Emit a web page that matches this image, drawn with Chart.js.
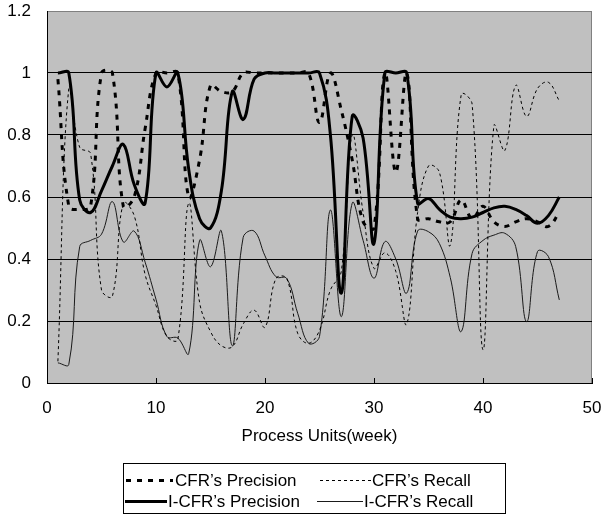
<!DOCTYPE html>
<html>
<head>
<meta charset="utf-8">
<script src="https://cdn.jsdelivr.net/npm/chart.js@4.4.0/dist/chart.umd.min.js"></script>
<style>
  html, body { margin: 0; padding: 0; background: #fff; }
</style>
</head>
<body>
<canvas id="myChart" width="602" height="515"></canvas>
<script>
// weeks on the x axis
const weeks = [1,2,3,4,5,6,7,8,9,10,11,12,13,14,15,16,17,18,19,20,21,22,23,24,25,26,27,28,29,30,31,32,33,34,35,36,37,38,39,40,41,42,43,44,45,46,47];

const cfrPrecision = [0.98,0.57,0.56,0.57,1.0,1.0,0.57,0.6,0.82,1.0,1.0,1.0,0.6,0.72,0.96,0.94,0.94,1.0,1.0,1.0,1.0,1.0,1.0,1.0,0.84,1.0,0.88,0.72,0.52,0.5,1.0,0.68,1.0,0.53,0.53,0.52,0.52,0.59,0.53,0.57,0.52,0.505,0.52,0.53,0.52,0.505,0.55];
const cfrRecall = [0.07,0.95,0.76,0.74,0.3,0.28,0.58,0.54,0.35,0.25,0.15,0.14,0.58,0.26,0.166,0.12,0.117,0.19,0.235,0.18,0.337,0.337,0.16,0.128,0.17,0.3,0.36,0.8,0.55,0.37,0.42,0.36,0.19,0.55,0.7,0.68,0.445,0.93,0.9,0.107,0.83,0.75,0.96,0.86,0.95,0.97,0.91];
const icfrPrecision = [1.0,1.0,0.59,0.55,0.62,0.7,0.77,0.64,0.58,1.0,0.955,1.0,0.69,0.53,0.5,0.62,0.94,0.85,0.98,1.0,1.0,1.0,1.0,1.0,1.0,0.8,0.29,0.86,0.79,0.45,1.0,1.0,1.0,0.58,0.595,0.56,0.535,0.53,0.535,0.55,0.565,0.57,0.56,0.54,0.515,0.54,0.6];
const icfrRecall = [0.065,0.06,0.44,0.46,0.48,0.585,0.455,0.49,0.39,0.27,0.15,0.145,0.095,0.46,0.375,0.49,0.12,0.47,0.49,0.41,0.343,0.337,0.225,0.128,0.15,0.558,0.214,0.58,0.46,0.338,0.456,0.4,0.29,0.49,0.488,0.45,0.34,0.166,0.418,0.46,0.477,0.483,0.44,0.198,0.424,0.408,0.268];

const seriesNames = ["CFR\u2019s Precision", "CFR\u2019s Recall", "I-CFR\u2019s Precision", "I-CFR\u2019s Recall"];
const xTicks = [0, 10, 20, 30, 40, 50];
const yTicks = [0, 0.2, 0.4, 0.6, 0.8, 1, 1.2];
const xTitle = "Process Units(week)";

function toPoints(values) {
  return weeks.map((w, i) => ({ x: w, y: values[i] }));
}

const FONT = "'Liberation Sans', Arial, sans-serif";
Chart.defaults.font.family = FONT;
Chart.defaults.font.size = 17;
Chart.defaults.color = '#000';

// gray plot area with a thin frame, and little tick marks inside the x axis
const plotFrame = {
  id: 'plotFrame',
  beforeDraw(chart) {
    const { ctx, chartArea: a } = chart;
    ctx.save();
    ctx.fillStyle = '#c0c0c0';
    ctx.fillRect(a.left, a.top, a.right - a.left, a.bottom - a.top);
    ctx.strokeStyle = '#808080';
    ctx.lineWidth = 1;
    ctx.strokeRect(a.left + 0.5, a.top + 0.5, a.right - a.left - 1, a.bottom - a.top);
    ctx.restore();
  },
  afterDraw(chart) {
    const { ctx, chartArea: a } = chart;
    const xs = chart.scales.x;
    ctx.save();
    ctx.strokeStyle = '#000';
    ctx.lineWidth = 1;
    xTicks.forEach(v => {
      const px = Math.round(xs.getPixelForValue(v)) + 0.5;
      ctx.beginPath();
      ctx.moveTo(px, a.bottom);
      ctx.lineTo(px, a.bottom - 5);
      ctx.stroke();
    });
    ctx.restore();
  }
};

// boxed legend under the chart, two columns like the original
const boxLegend = {
  id: 'boxLegend',
  afterDraw(chart) {
    const ctx = chart.ctx;
    const ds = chart.data.datasets;
    ctx.save();
    ctx.strokeStyle = '#000';
    ctx.lineWidth = 1;
    ctx.strokeRect(123.5, 463.5, 382, 50);
    const items = [
      { i: 0, x0: 126, x1: 173, y: 480, tx: 175 },
      { i: 1, x0: 320, x1: 371, y: 480, tx: 372 },
      { i: 2, x0: 125, x1: 167, y: 501, tx: 168 },
      { i: 3, x0: 317, x1: 363, y: 501, tx: 364 }
    ];
    items.forEach(it => {
      const d = ds[it.i];
      ctx.beginPath();
      ctx.setLineDash(d.borderDash || []);
      ctx.lineWidth = d.borderWidth;
      ctx.strokeStyle = d.borderColor;
      ctx.moveTo(it.x0, it.y + 0.5);
      ctx.lineTo(it.x1, it.y + 0.5);
      ctx.stroke();
      ctx.setLineDash([]);
      ctx.fillStyle = '#000';
      ctx.font = '17px ' + FONT;
      ctx.textBaseline = 'middle';
      ctx.textAlign = 'left';
      ctx.fillText(d.label, it.tx, it.y + 1);
    });
    ctx.restore();
  }
};

const ctx = document.getElementById('myChart');

new Chart(ctx, {
  type: 'line',
  data: {
    datasets: [
      { label: seriesNames[0], data: toPoints(cfrPrecision), borderColor: '#000', borderWidth: 3, borderDash: [5, 6] },
      { label: seriesNames[1], data: toPoints(cfrRecall), borderColor: '#000', borderWidth: 1, borderDash: [3, 3] },
      { label: seriesNames[2], data: toPoints(icfrPrecision), borderColor: '#000', borderWidth: 3 },
      { label: seriesNames[3], data: toPoints(icfrRecall), borderColor: '#1a1a1a', borderWidth: 1 }
    ]
  },
  options: {
    responsive: false,
    animation: false,
    layout: { padding: { left: 0, right: 10, top: 0, bottom: 68 } },
    elements: {
      point: { radius: 0 },
      line: { tension: 0.4, fill: false }
    },
    plugins: {
      legend: { display: false },
      tooltip: { enabled: false }
    },
    scales: {
      x: {
        type: 'linear',
        min: 0,
        max: 50,
        afterBuildTicks: s => { s.ticks = xTicks.map(v => ({ value: v })); },
        afterFit: s => { s.height = 64; s.paddingLeft = 0; s.paddingRight = 0; },
        grid: { display: false },
        border: { display: true, color: '#000', width: 1 },
        ticks: { padding: 7, maxRotation: 0 },
        title: { display: true, text: xTitle, padding: { top: 0, bottom: 0 } }
      },
      y: {
        min: 0,
        max: 1.2,
        afterBuildTicks: s => { s.ticks = yTicks.map(v => ({ value: v })); },
        afterFit: s => { s.width = 47; s.paddingTop = 11; s.paddingBottom = 0; },
        grid: {
          drawTicks: false,
          tickLength: 0,
          color: c => (c.tick && c.tick.value > 1.1) ? '#808080' : '#000',
          lineWidth: 1
        },
        border: { display: true, color: '#000', width: 1 },
        ticks: {
          padding: 16,
          callback: v => String(Number(v.toFixed(1)))
        }
      }
    }
  },
  plugins: [plotFrame, boxLegend]
});
</script>
</body>
</html>
